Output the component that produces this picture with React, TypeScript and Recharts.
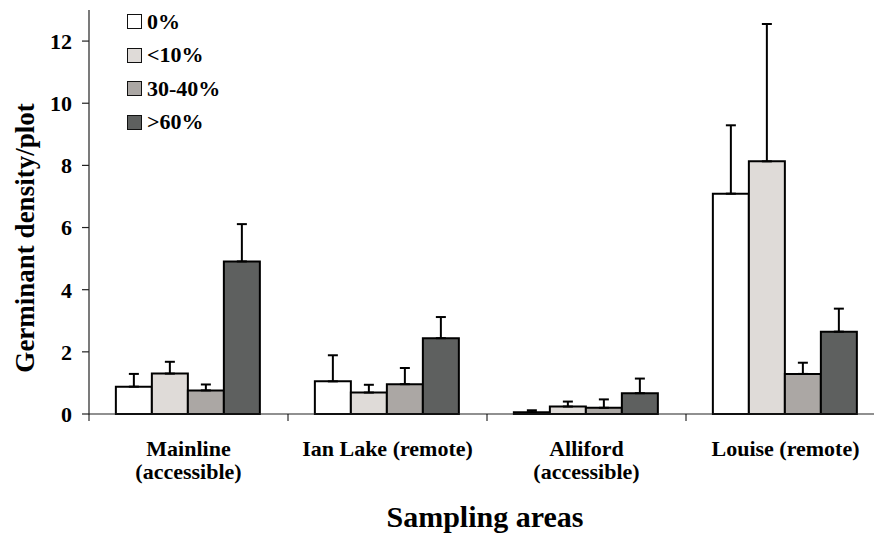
import { BarChart, Bar, XAxis, YAxis, ErrorBar } from "recharts";

const categories = [
	"Mainline\n(accessible)",
	"Ian Lake (remote)",
	"Alliford\n(accessible)",
	"Louise (remote)",
];
const seriesNames = ["0%", "<10%", "30-40%", ">60%"];
const seriesColors = ["#ffffff", "#dfdbd8", "#aba7a4", "#5e605f"];

// mean germinant density per plot
const open0 = [0.88, 1.05, 0.06, 7.09];
const under10 = [1.3, 0.69, 0.24, 8.13];
const mid3040 = [0.76, 0.96, 0.2, 1.29];
const over60 = [4.91, 2.44, 0.67, 2.65];

// standard errors (drawn upward only)
const open0Err = [0.41, 0.84, 0.06, 2.2];
const under10Err = [0.38, 0.25, 0.16, 4.42];
const mid3040Err = [0.19, 0.52, 0.27, 0.36];
const over60Err = [1.2, 0.68, 0.47, 0.74];

const yTicks = [0, 2, 4, 6, 8, 10, 12];

const means = [open0, under10, mid3040, over60];
const errs = [open0Err, under10Err, mid3040Err, over60Err];

const data = categories.map((name, i) => {
	const row: Record<string, any> = { name };
	means.forEach((m, s) => {
		row["s" + s] = m[i];
		row["e" + s] = [0, errs[s][i]];
	});
	return row;
});

const FONT = "'Liberation Serif', 'Times New Roman', serif";

function CategoryTick(props: any) {
	const { x, y, payload } = props;
	const half = payload.offset ?? 99.5;
	const lines = String(payload.value).split("\n");
	return (
		<g>
			<line x1={x - half} y1={y} x2={x - half} y2={y + 7} stroke="#000" />
			<text
				x={x}
				y={y + 42}
				textAnchor="middle"
				fontFamily={FONT}
				fontWeight="bold"
				fontSize={22}
				fill="#000"
			>
				{lines.map((l, i) => (
					<tspan key={i} x={x} dy={i === 0 ? 0 : 23}>
						{l}
					</tspan>
				))}
			</text>
		</g>
	);
}

export default function App() {
	return (
		<div
			style={{
				position: "fixed",
				left: 0,
				top: 0,
				width: 874,
				height: 540,
				overflow: "hidden",
				background: "#fff",
				fontFamily: FONT,
			}}
		>
			<BarChart
				width={886}
				height={540}
				data={data}
				margin={{ top: 10, right: 1, left: 0, bottom: 26 }}
				barCategoryGap="13.5%"
				barGap={0}
			>
				<XAxis
					dataKey="name"
					height={100}
					interval={0}
					tickLine={false}
					tickSize={0}
					tickMargin={0}
					axisLine={{ stroke: "#222", strokeWidth: 1.2 }}
					tick={<CategoryTick />}
				/>
				<YAxis
					width={89}
					domain={[0, 13]}
					ticks={yTicks}
					tickSize={7}
					tickMargin={10}
					tickLine={{ stroke: "#222", strokeWidth: 1.2 }}
					axisLine={{ stroke: "#222", strokeWidth: 1.2 }}
					tick={{
						fill: "#000",
						fontSize: 22,
						fontWeight: "bold",
						fontFamily: FONT,
					}}
				/>
				{seriesNames.map((n, s) => (
					<Bar
						key={n}
						dataKey={"s" + s}
						name={n}
						fill={seriesColors[s]}
						stroke="#000"
						strokeWidth={2}
						isAnimationActive={false}
					>
						<ErrorBar
							dataKey={"e" + s}
							direction="y"
							width={5}
							stroke="#000"
							strokeWidth={2}
							isAnimationActive={false}
						/>
					</Bar>
				))}
			</BarChart>

			<svg
				width={874}
				height={540}
				style={{ position: "absolute", left: 0, top: 0, pointerEvents: "none" }}
			>
				<text
					x={34}
					y={238}
					transform="rotate(-90, 34, 238)"
					textAnchor="middle"
					fontFamily={FONT}
					fontWeight="bold"
					fontSize={27}
					fill="#000"
				>
					Germinant density/plot
				</text>
				<text
					x={485}
					y={527}
					textAnchor="middle"
					fontFamily={FONT}
					fontWeight="bold"
					fontSize={30}
					fill="#000"
				>
					Sampling areas
				</text>
			</svg>

			<div style={{ position: "absolute", left: 127, top: 5 }}>
				{seriesNames.map((n, s) => (
					<div
						key={n}
						style={{
							display: "flex",
							alignItems: "center",
							height: 33.5,
							fontSize: 22,
							fontWeight: "bold",
							color: "#000",
						}}
					>
						<span
							style={{
								display: "inline-block",
								width: 13,
								height: 13,
								border: "1.5px solid #111",
								background: seriesColors[s],
								marginRight: 5,
							}}
						/>
						{n}
					</div>
				))}
			</div>
		</div>
	);
}
